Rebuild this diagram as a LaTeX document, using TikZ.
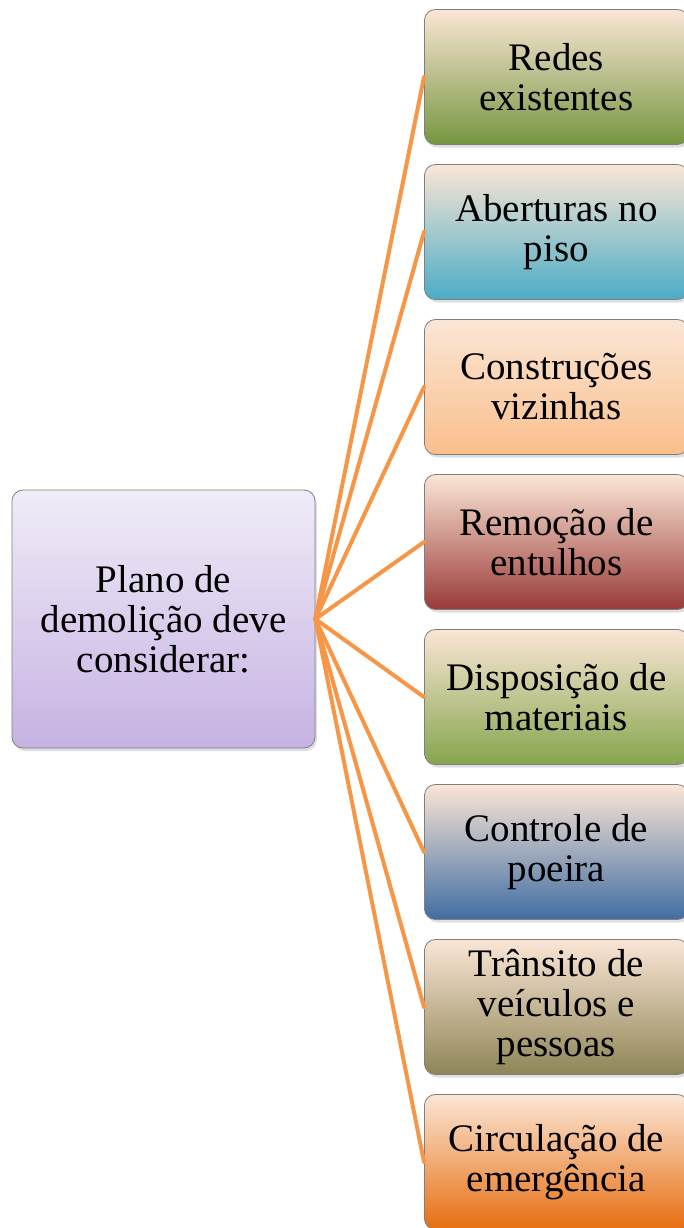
\documentclass[tikz,border=0pt]{standalone}
\usepackage{fontspec}
\setmainfont{Liberation Serif}
\usepackage{tikz}
\usetikzlibrary{shadows}
\definecolor{edge}{HTML}{F79646}
\definecolor{frame}{HTML}{7F7F7F}
\definecolor{peach}{HTML}{FBE6D6}
\definecolor{lilac}{HTML}{F1ECF8}
\definecolor{lilacmid}{HTML}{DCD0EE}
\definecolor{lilacdark}{HTML}{C6B2E2}
\definecolor{greenmid}{HTML}{D9E5BE}
\definecolor{greendark}{HTML}{76963F}
\definecolor{aquamid}{HTML}{AAD6E2}
\definecolor{aquadark}{HTML}{4BACC6}
\definecolor{orangemid}{HTML}{FCD6B6}
\definecolor{orangedark}{HTML}{FABF8C}
\definecolor{redmid}{HTML}{DCA5A3}
\definecolor{reddark}{HTML}{993A37}
\definecolor{leafmid}{HTML}{CBDBA6}
\definecolor{leafdark}{HTML}{86A54D}
\definecolor{bluemid}{HTML}{A9BFDC}
\definecolor{bluedark}{HTML}{416DA3}
\definecolor{olivemid}{HTML}{C8C1A0}
\definecolor{olivedark}{HTML}{8E8556}
\definecolor{firemid}{HTML}{F7C39C}
\definecolor{firedark}{HTML}{E66E10}
\tikzset{
  box/.style={draw=frame, line width=0.8pt, rounded corners=11pt, align=center,
    font=\fontsize{39}{40}\selectfont, inner sep=0pt,
    drop shadow={opacity=0.25, shadow xshift=2pt, shadow yshift=-3pt}},
  root/.style={box, minimum width=303pt, minimum height=258pt,
    top color=lilac, middle color=lilacmid, bottom color=lilacdark},
  leaf/.style={box, anchor=west, minimum width=264pt, minimum height=135pt,
    top color=peach},
  link/.style={draw=edge, line width=4pt, line cap=round},
}
\begin{document}
\begin{tikzpicture}[x=1pt, y=-1pt]
  \useasboundingbox (0,0) rectangle (684,1228);

  \node[root] (plan) at (163.5,619) {Plano de\\demolição deve\\considerar:};

  \node[leaf, middle color=greenmid, bottom color=greendark] (redes) at (424,77) {Redes\\existentes};
  \node[leaf, middle color=aquamid, bottom color=aquadark] (aberturas) at (424,232) {Aberturas no\\piso};
  \node[leaf, middle color=orangemid, bottom color=orangedark] (vizinhas) at (424,387) {Construções\\vizinhas};
  \node[leaf, middle color=redmid, bottom color=reddark] (entulhos) at (424,542) {Remoção de\\entulhos};
  \node[leaf, middle color=leafmid, bottom color=leafdark] (materiais) at (424,697) {Disposição de\\materiais};
  \node[leaf, middle color=bluemid, bottom color=bluedark] (poeira) at (424,852) {Controle de\\poeira};
  \node[leaf, middle color=olivemid, bottom color=olivedark] (transito) at (424,1007) {Trânsito de\\veículos e\\pessoas};
  \node[leaf, middle color=firemid, bottom color=firedark] (emergencia) at (424,1162) {Circulação de\\emergência};

  \foreach \t in {redes,aberturas,vizinhas,entulhos,materiais,poeira,transito,emergencia}
    \draw[link] (plan.east) -- (\t.west);
\end{tikzpicture}
\end{document}
